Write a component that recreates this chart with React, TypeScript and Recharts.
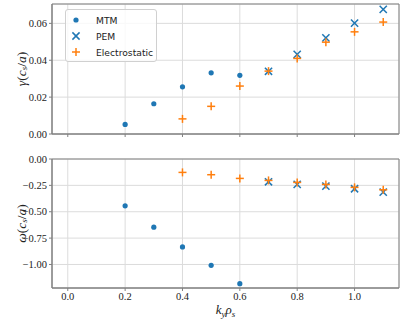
import React from 'react';
import {
  ScatterChart,
  Scatter,
  XAxis,
  YAxis,
  CartesianGrid,
  ReferenceArea,
  Legend,
} from 'recharts';

// k_y rho_s values for each series
const kyMTM = [0.2, 0.3, 0.4, 0.5, 0.6];
const kyPEM = [0.7, 0.8, 0.9, 1.0, 1.1];
const kyES = [0.4, 0.5, 0.6, 0.7, 0.8, 0.9, 1.0, 1.1];

// growth rate gamma (c_s/a)
const gammaMTM = [0.0052, 0.0164, 0.0256, 0.0332, 0.0318];
const gammaPEM = [0.034, 0.0432, 0.0521, 0.0601, 0.0676];
const gammaES = [0.0082, 0.015, 0.026, 0.0341, 0.041, 0.0498, 0.0554, 0.0607];

// frequency omega (c_s/a)
const omegaMTM = [-0.444, -0.646, -0.834, -1.008, -1.182];
const omegaPEM = [-0.216, -0.241, -0.257, -0.282, -0.314];
const omegaES = [-0.127, -0.149, -0.184, -0.203, -0.222, -0.241, -0.269, -0.292];

const xTicks = [0, 0.2, 0.4, 0.6, 0.8, 1.0];
const gammaTicks = [0, 0.02, 0.04, 0.06];
const omegaTicks = [-1.0, -0.75, -0.5, -0.25, 0];

const X_DOMAIN: [number, number] = [-0.055, 1.155];
const GAMMA_DOMAIN: [number, number] = [0, 0.0705];
const OMEGA_DOMAIN: [number, number] = [-1.223, 0];

const BLUE = '#1f77b4';
const ORANGE = '#ff7f0e';
const SPINE = '#808080';
const GRID = '#dcdcdc';
const SERIF = '"Liberation Serif", "DejaVu Serif", serif';
const SANS = '"DejaVu Sans", sans-serif';

const zip = (xs: number[], ys: number[]) => xs.map((x, i) => ({ x, y: ys[i] }));

const fmt = (digits: number) => (v: number) => {
  const s = Math.abs(v).toFixed(digits);
  return v < 0 ? `\u2212${s}` : s;
};

const Dot = (p: any) => <circle cx={p.cx} cy={p.cy} r={2.6} fill={BLUE} />;

const Cross = (p: any) => {
  const h = 3.6;
  return (
    <g stroke={BLUE} strokeWidth={1.5}>
      <line x1={p.cx - h} y1={p.cy - h} x2={p.cx + h} y2={p.cy + h} />
      <line x1={p.cx - h} y1={p.cy + h} x2={p.cx + h} y2={p.cy - h} />
    </g>
  );
};

const Plus = (p: any) => {
  const h = 4;
  return (
    <g stroke={ORANGE} strokeWidth={1.5}>
      <line x1={p.cx - h} y1={p.cy} x2={p.cx + h} y2={p.cy} />
      <line x1={p.cx} y1={p.cy - h} x2={p.cx} y2={p.cy + h} />
    </g>
  );
};

const legendItems = [
  { name: 'MTM', Shape: Dot },
  { name: 'PEM', Shape: Cross },
  { name: 'Electrostatic', Shape: Plus },
];

const LegendBox = () => (
  <div
    style={{
      width: 92,
      height: 53,
      boxSizing: 'border-box',
      border: '1px solid #d0d0d0',
      borderRadius: 3,
      background: 'rgba(255,255,255,0.8)',
      position: 'relative',
      fontFamily: SANS,
      fontSize: 9.2,
      color: '#222',
    }}
  >
    {legendItems.map((it, i) => (
      <div key={it.name} style={{ position: 'absolute', left: 0, top: 3 + i * 16, height: 14, display: 'flex', alignItems: 'center' }}>
        <svg width={20} height={14}>
          <it.Shape cx={10} cy={7} />
        </svg>
        <span style={{ marginLeft: 10 }}>{it.name}</span>
      </div>
    ))}
  </div>
);

const yLabel = (sym: string) => (props: any) => {
  const vb = props.viewBox;
  const cx = 21;
  const cy = vb.y + vb.height / 2;
  return (
    <text
      x={cx}
      y={cy}
      transform={`rotate(-90 ${cx} ${cy})`}
      textAnchor="middle"
      dominantBaseline="central"
      fontFamily={SERIF}
      fontSize={13.5}
      fill="#222"
    >
      <tspan fontStyle="italic">{sym}</tspan>
      <tspan>(</tspan>
      <tspan fontStyle="italic">c</tspan>
      <tspan fontStyle="italic" fontSize={9} dy={3}>s</tspan>
      <tspan dy={-3}>/</tspan>
      <tspan fontStyle="italic">a</tspan>
      <tspan>)</tspan>
    </text>
  );
};

const xLabel = (props: any) => {
  const vb = props.viewBox;
  const cx = vb.x + vb.width / 2;
  const y = vb.y + vb.height - 8;
  return (
    <text x={cx} y={y} textAnchor="middle" fontFamily={SERIF} fontSize={13} fill="#222">
      <tspan fontStyle="italic">k</tspan>
      <tspan fontStyle="italic" fontSize={9} dy={3}>y</tspan>
      <tspan fontStyle="italic" dy={-3}>ρ</tspan>
      <tspan fontStyle="italic" fontSize={9} dy={3}>s</tspan>
    </text>
  );
};

const tickStyle = { fontFamily: SERIF, fontSize: 10.5, fill: '#222' };

export default function App() {
  return (
    <div style={{ position: 'absolute', left: 0, top: 0, width: 403, height: 322, background: '#fff' }}>
      <div style={{ position: 'absolute', left: 0, top: 0 }}>
        <ScatterChart width={403} height={150} margin={{ top: 4, right: 4, bottom: 0, left: 0 }}>
          <CartesianGrid stroke={GRID} strokeWidth={1} />
          <XAxis
            type="number"
            dataKey="x"
            domain={X_DOMAIN}
            allowDataOverflow
            ticks={xTicks}
            tickFormatter={() => ''}
            height={16}
            tickSize={3}
            stroke={SPINE}
          />
          <YAxis
            type="number"
            dataKey="y"
            domain={GAMMA_DOMAIN}
            allowDataOverflow
            ticks={gammaTicks}
            tickFormatter={fmt(2)}
            width={52}
            tickSize={3}
            stroke={SPINE}
            tick={tickStyle}
            label={yLabel('γ')}
          />
          <ReferenceArea x1={X_DOMAIN[0]} x2={X_DOMAIN[1]} y1={GAMMA_DOMAIN[0]} y2={GAMMA_DOMAIN[1]} fill="none" stroke={SPINE} strokeWidth={1} />
          <Scatter data={zip(kyMTM, gammaMTM)} shape={Dot} isAnimationActive={false} />
          <Scatter data={zip(kyPEM, gammaPEM)} shape={Cross} isAnimationActive={false} />
          <Scatter data={zip(kyES, gammaES)} shape={Plus} isAnimationActive={false} />
          <Legend
            layout="vertical"
            align="center"
            verticalAlign="middle"
            content={() => <LegendBox />}
            wrapperStyle={{ left: 65, top: 9, width: 92, height: 53 }}
          />
        </ScatterChart>
      </div>
      <div style={{ position: 'absolute', left: 0, top: 150 }}>
        <ScatterChart width={403} height={172} margin={{ top: 9, right: 4, bottom: 0, left: 0 }}>
          <CartesianGrid stroke={GRID} strokeWidth={1} />
          <XAxis
            type="number"
            dataKey="x"
            domain={X_DOMAIN}
            allowDataOverflow
            ticks={xTicks}
            tickFormatter={fmt(1)}
            height={34}
            tickSize={3}
            stroke={SPINE}
            tick={tickStyle}
            label={xLabel}
          />
          <YAxis
            type="number"
            dataKey="y"
            domain={OMEGA_DOMAIN}
            allowDataOverflow
            ticks={omegaTicks}
            tickFormatter={fmt(2)}
            width={52}
            tickSize={3}
            stroke={SPINE}
            tick={tickStyle}
            label={yLabel('ω')}
          />
          <ReferenceArea x1={X_DOMAIN[0]} x2={X_DOMAIN[1]} y1={OMEGA_DOMAIN[0]} y2={OMEGA_DOMAIN[1]} fill="none" stroke={SPINE} strokeWidth={1} />
          <Scatter data={zip(kyMTM, omegaMTM)} shape={Dot} isAnimationActive={false} />
          <Scatter data={zip(kyPEM, omegaPEM)} shape={Cross} isAnimationActive={false} />
          <Scatter data={zip(kyES, omegaES)} shape={Plus} isAnimationActive={false} />
        </ScatterChart>
      </div>
    </div>
  );
}
